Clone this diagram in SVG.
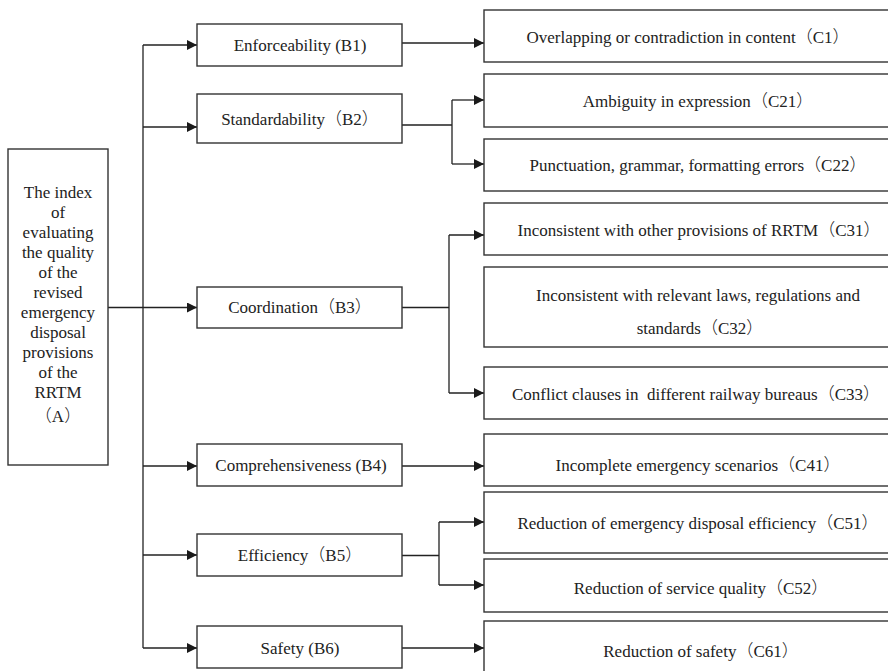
<svg xmlns="http://www.w3.org/2000/svg" width="888" height="671" viewBox="0 0 888 671">
<defs>
<marker id="ah" markerWidth="10" markerHeight="10" refX="10" refY="5" orient="auto" markerUnits="userSpaceOnUse" viewBox="0 0 10 10">
<path d="M0,0 L10,5 L0,10 Z" fill="#1a1a1a"/>
</marker>
<style>
.box{fill:#fff;stroke:#333;stroke-width:1.4}
.t{font-family:"Liberation Serif","Times New Roman",serif;font-size:17px;fill:#222;text-anchor:middle;white-space:pre}
.p{font-family:"Noto Sans CJK SC",sans-serif;font-weight:300}
.ln{fill:none;stroke:#222;stroke-width:1.3}
.ar{fill:none;stroke:#222;stroke-width:1.3;marker-end:url(#ah)}
</style>
</defs>
<rect width="888" height="671" fill="#fff"/>
<g id="connectors">
<path class="ln" d="M143,45 V648"/>
<path class="ar" d="M108,307.5 H197"/>
<path class="ar" d="M143,45 H197"/>
<path class="ar" d="M143,127 H197"/>
<path class="ar" d="M143,466 H197"/>
<path class="ar" d="M143,555 H197"/>
<path class="ar" d="M143,648 H197"/>
<path class="ar" d="M402,43 H484"/>
<path class="ln" d="M402,125 H452 M452,100 V164"/>
<path class="ar" d="M452,100 H484"/>
<path class="ar" d="M452,164 H484"/>
<path class="ln" d="M402,307.5 H449 M449,235 V393"/>
<path class="ar" d="M449,235 H484"/>
<path class="ar" d="M449,393 H484"/>
<path class="ar" d="M402,466 H484"/>
<path class="ln" d="M402,555.5 H439 M439,522 V585"/>
<path class="ar" d="M439,522 H484"/>
<path class="ar" d="M439,585 H484"/>
<path class="ar" d="M402,648 H484"/>
</g>
<g id="A">
<rect class="box" x="8" y="149" width="100" height="316"/>
<text class="t" x="58" y="198">The index</text>
<text class="t" x="58" y="218">of</text>
<text class="t" x="58" y="238">evaluating</text>
<text class="t" x="58" y="258">the quality</text>
<text class="t" x="58" y="278">of the</text>
<text class="t" x="58" y="298">revised</text>
<text class="t" x="58" y="318">emergency</text>
<text class="t" x="58" y="338">disposal</text>
<text class="t" x="58" y="358">provisions</text>
<text class="t" x="58" y="378">of the</text>
<text class="t" x="58" y="398">RRTM</text>
<text class="t" x="58" y="422"><tspan class="p">（</tspan>A<tspan class="p">）</tspan></text>
</g>
<g id="B1"><rect class="box" x="197" y="24" width="205" height="42"/><text class="t" x="300" y="51">Enforceability (B1)</text></g>
<g id="B2"><rect class="box" x="197" y="94" width="205" height="49"/><text class="t" x="300" y="125">Standardability<tspan class="p">（</tspan>B2<tspan class="p">）</tspan></text></g>
<g id="B3"><rect class="box" x="197" y="287" width="205" height="41"/><text class="t" x="300" y="313">Coordination<tspan class="p">（</tspan>B3<tspan class="p">）</tspan></text></g>
<g id="B4"><rect class="box" x="197" y="444" width="205" height="42"/><text class="t" x="301" y="471">Comprehensiveness (B4)</text></g>
<g id="B5"><rect class="box" x="197" y="534" width="205" height="42"/><text class="t" x="300" y="561">Efficiency<tspan class="p">（</tspan>B5<tspan class="p">）</tspan></text></g>
<g id="B6"><rect class="box" x="197" y="626" width="205" height="42"/><text class="t" x="300" y="654">Safety (B6)</text></g>
<g id="C1"><rect class="box" x="484" y="10" width="410" height="52"/><text class="t" x="688" y="43">Overlapping or contradiction in content<tspan class="p">（</tspan>C1<tspan class="p">）</tspan></text></g>
<g id="C21"><rect class="box" x="484" y="74" width="410" height="53"/><text class="t" x="698" y="107">Ambiguity in expression<tspan class="p">（</tspan>C21<tspan class="p">）</tspan></text></g>
<g id="C22"><rect class="box" x="484" y="139" width="410" height="52"/><text class="t" x="698" y="171">Punctuation, grammar, formatting errors<tspan class="p">（</tspan>C22<tspan class="p">）</tspan></text></g>
<g id="C31"><rect class="box" x="484" y="203" width="410" height="52"/><text class="t" x="699" y="236">Inconsistent with other provisions of RRTM<tspan class="p">（</tspan>C31<tspan class="p">）</tspan></text></g>
<g id="C32"><rect class="box" x="484" y="267" width="410" height="80"/><text class="t" x="698" y="301">Inconsistent with relevant laws, regulations and</text><text class="t" x="700" y="334">standards<tspan class="p">（</tspan>C32<tspan class="p">）</tspan></text></g>
<g id="C33"><rect class="box" x="484" y="367" width="410" height="52"/><text class="t" x="696" y="400">Conflict clauses in  different railway bureaus<tspan class="p">（</tspan>C33<tspan class="p">）</tspan></text></g>
<g id="C41"><rect class="box" x="484" y="434" width="410" height="52"/><text class="t" x="698" y="471">Incomplete emergency scenarios<tspan class="p">（</tspan>C41<tspan class="p">）</tspan></text></g>
<g id="C51"><rect class="box" x="484" y="492" width="410" height="61"/><text class="t" x="698" y="529">Reduction of emergency disposal efficiency<tspan class="p">（</tspan>C51<tspan class="p">）</tspan></text></g>
<g id="C52"><rect class="box" x="484" y="559" width="410" height="53"/><text class="t" x="701" y="594">Reduction of service quality<tspan class="p">（</tspan>C52<tspan class="p">）</tspan></text></g>
<g id="C61"><rect class="box" x="484" y="621" width="410" height="60"/><text class="t" x="701" y="657">Reduction of safety<tspan class="p">（</tspan>C61<tspan class="p">）</tspan></text></g>
</svg>
